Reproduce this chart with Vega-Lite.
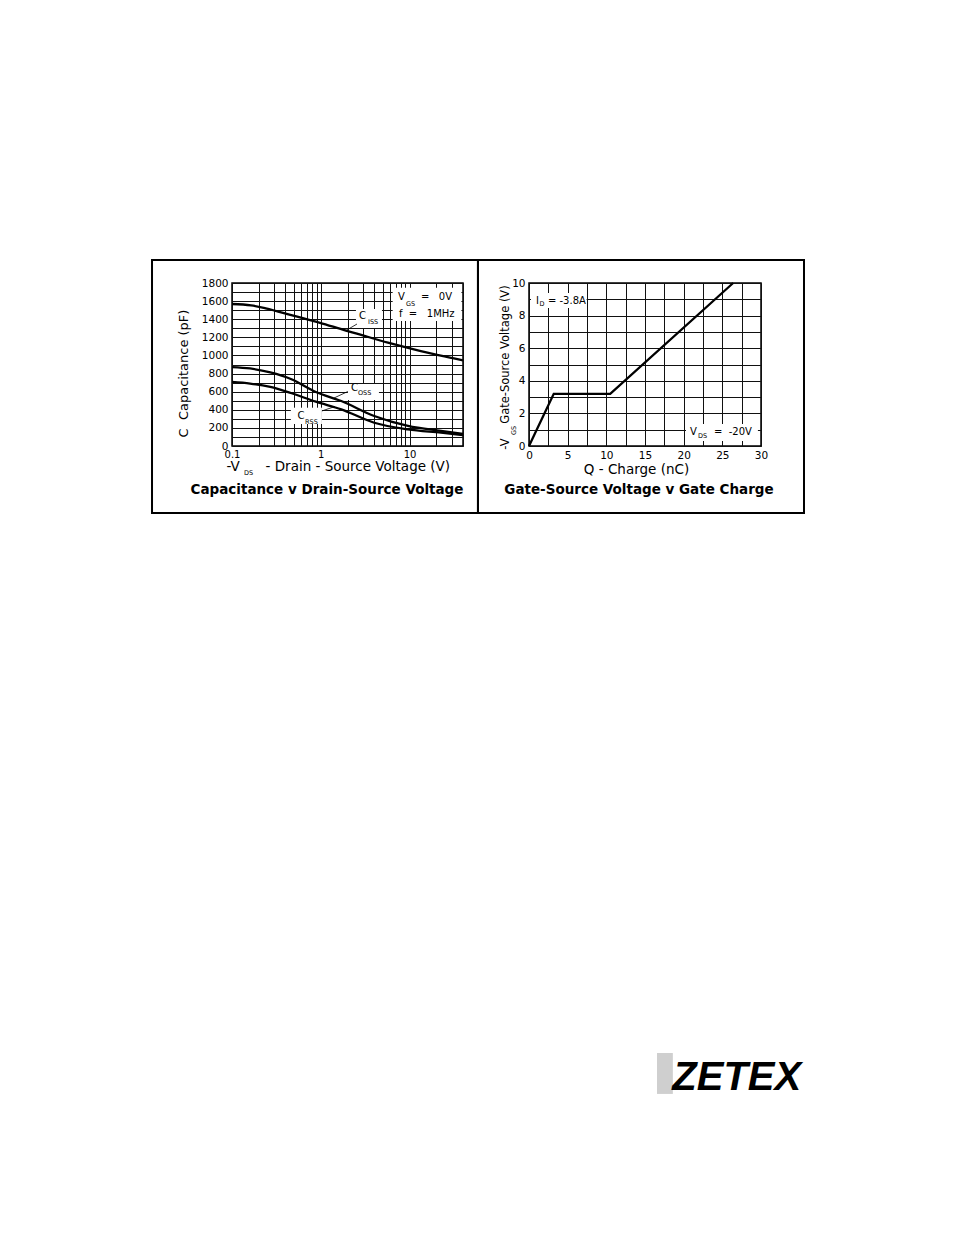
{
  "$schema": "https://vega.github.io/schema/vega-lite/v6.json",
  "background": "white",
  "padding": {"left": 150, "top": 258, "right": 20, "bottom": 20},
  "config": {
    "font": "DejaVu Sans",
    "view": {"stroke": "black", "strokeWidth": 1.5},
    "axis": {
      "grid": true, "gridColor": "#111111", "gridWidth": 1, "gridOpacity": 1,
      "domain": false, "ticks": false,
      "labelColor": "black", "labelFont": "DejaVu Sans", "labelFontSize": 10.5,
      "titleColor": "black", "titleFont": "DejaVu Sans", "titleFontWeight": "normal",
      "labelFlush": false, "labelOverlap": false
    },
    "text": {"font": "DejaVu Sans", "color": "black"}
  },
  "datasets": {
    "capacitance": [
      {"series": "Ciss", "vds": 0.1, "c": 1568}, {"series": "Ciss", "vds": 0.164, "c": 1553}, {"series": "Ciss", "vds": 0.24, "c": 1521},
      {"series": "Ciss", "vds": 0.49, "c": 1439}, {"series": "Ciss", "vds": 0.98, "c": 1360}, {"series": "Ciss", "vds": 1.92, "c": 1275},
      {"series": "Ciss", "vds": 2.37, "c": 1250}, {"series": "Ciss", "vds": 5.71, "c": 1141}, {"series": "Ciss", "vds": 13.4, "c": 1049},
      {"series": "Ciss", "vds": 31.6, "c": 968}, {"series": "Ciss", "vds": 40, "c": 946},
      {"series": "Coss", "vds": 0.1, "c": 872}, {"series": "Coss", "vds": 0.16, "c": 856}, {"series": "Coss", "vds": 0.27, "c": 812},
      {"series": "Coss", "vds": 0.46, "c": 740}, {"series": "Coss", "vds": 0.88, "c": 596}, {"series": "Coss", "vds": 1.7, "c": 497},
      {"series": "Coss", "vds": 4.0, "c": 331}, {"series": "Coss", "vds": 9.6, "c": 221}, {"series": "Coss", "vds": 22.6, "c": 166},
      {"series": "Coss", "vds": 40, "c": 133},
      {"series": "Crss", "vds": 0.1, "c": 707}, {"series": "Crss", "vds": 0.16, "c": 690}, {"series": "Crss", "vds": 0.27, "c": 652},
      {"series": "Crss", "vds": 0.46, "c": 585}, {"series": "Crss", "vds": 0.88, "c": 489}, {"series": "Crss", "vds": 1.7, "c": 405},
      {"series": "Crss", "vds": 4.0, "c": 257}, {"series": "Crss", "vds": 9.6, "c": 184}, {"series": "Crss", "vds": 22.6, "c": 147},
      {"series": "Crss", "vds": 40, "c": 121}
    ],
    "capBoxes": [
      {"x1": 6.45, "x2": 38.4, "y1": 1380, "y2": 1748},
      {"x1": 2.49, "x2": 4.89, "y1": 1303, "y2": 1513},
      {"x1": 2.02, "x2": 4.52, "y1": 508, "y2": 685},
      {"x1": 0.46, "x2": 1.03, "y1": 243, "y2": 423}
    ],
    "capLeaders": [
      {"x1": 1.92, "y1": 1275, "x2": 2.557, "y2": 1347},
      {"x1": 1.39, "y1": 527, "x2": 2.02, "y2": 602},
      {"x1": 1.03, "y1": 387, "x2": 1.445, "y2": 436}
    ],
    "capLabels": [
      {"label": "V", "x": 7.40, "y": 1640},
      {"label": "=\u00a0\u00a0\u00a00V", "x": 13.44, "y": 1640},
      {"label": "f\u00a0\u00a0=\u00a0\u00a0\u00a01MHz", "x": 7.60, "y": 1463},
      {"label": "C", "x": 2.69, "y": 1436},
      {"label": "C", "x": 2.189, "y": 640},
      {"label": "C", "x": 0.5465, "y": 335}
    ],
    "capSubs": [
      {"label": "GS", "x": 9.11, "y": 1568},
      {"label": "ISS", "x": 3.40, "y": 1369},
      {"label": "OSS", "x": 2.62, "y": 585},
      {"label": "RSS", "x": 0.664, "y": 268},
      {"label": "DS", "x": 0.1365, "y": -295}
    ],
    "capCaption": [
      {"label": "Capacitance v Drain-Source Voltage", "x": 1.174, "y": -530}
    ],
    "gateCharge": [
      {"q": 0, "vgs": 0}, {"q": 3.2, "vgs": 3.2}, {"q": 10.5, "vgs": 3.2}, {"q": 26.4, "vgs": 10}
    ],
    "qgBoxes": [
      {"x1": 0.26, "x2": 7.45, "y1": 8.47, "y2": 9.39},
      {"x1": 20.3, "x2": 29.6, "y1": 0.31, "y2": 1.35}
    ],
    "qgLabels": [
      {"label": "I", "x": 0.905, "y": 8.896},
      {"label": "= -3.8A", "x": 2.45, "y": 8.896},
      {"label": "V", "x": 20.82, "y": 0.859},
      {"label": "=\u00a0\u00a0-20V", "x": 23.92, "y": 0.859}
    ],
    "qgSubs": [
      {"label": "D", "x": 1.358, "y": 8.712},
      {"label": "DS", "x": 21.85, "y": 0.644}
    ],
    "qgTitleSub": [
      {"label": "GS", "x": -2.0, "y": 0.951}
    ],
    "qgCaption": [
      {"label": "Gate-Source Voltage v Gate Charge", "x": 14.22, "y": -2.945}
    ],
    "logo": [
      {"label": "ZETEX", "x": 35.2, "y": -39.5}
    ],
    "logoIcon": [
      {"x1": 16.55, "x2": 18.6, "y1": -37.24, "y2": -39.75}
    ]
  },
  "hconcat": [
    {
      "width": 231,
      "height": 163,
      "layer": [
        {
          "data": {"name": "capacitance"},
          "mark": {"type": "line", "color": "black", "strokeWidth": 2.3, "interpolate": "monotone"},
          "encoding": {
            "x": {"field": "vds", "type": "quantitative", "scale": {"type": "log", "domain": [0.1, 40], "nice": false},
              "axis": {"values": [0.1, 0.2, 0.3, 0.4, 0.5, 0.6, 0.7, 0.8, 0.9, 1, 2, 3, 4, 5, 6, 7, 8, 9, 10, 20, 30, 40],
                "tickCount": 100,
                "labelExpr": "datum.value == 0.1 ? '0.1' : (datum.value == 1 ? '1' : (datum.value == 10 ? '10' : ''))",
                "labelPadding": 3, "labelFontSize": 10,
                "title": "-V\u00a0\u00a0\u00a0\u00a0\u00a0\u00a0- Drain - Source Voltage (V)",
                "titleFontSize": 13.5, "titleX": -6, "titleY": 24, "titleAlign": "left", "titleBaseline": "alphabetic"}},
            "y": {"field": "c", "type": "quantitative", "scale": {"domain": [0, 1800], "nice": false, "zero": false},
              "axis": {"values": [0, 100, 200, 300, 400, 500, 600, 700, 800, 900, 1000, 1100, 1200, 1300, 1400, 1500, 1600, 1700, 1800],
                "tickCount": 100,
                "labelExpr": "datum.value % 200 == 0 ? format(datum.value, 'd') : ''",
                "labelPadding": 4,
                "title": "C\u00a0\u00a0Capacitance (pF)",
                "titleFontSize": 13, "titleX": -49, "titleY": 90, "titleAngle": 270, "titleAlign": "center", "titleBaseline": "middle"}},
            "detail": {"field": "series"}
          }
        },
        {
          "data": {"values": [{}]},
          "mark": {"type": "rect", "filled": false, "stroke": "black", "strokeWidth": 2},
          "encoding": {
            "x": {"datum": 0.01256, "type": "quantitative", "scale": {"type": "log", "domain": [0.1, 40], "nice": false}},
            "x2": {"datum": 58.9},
            "y": {"datum": 2054, "type": "quantitative", "scale": {"domain": [0, 1800], "nice": false, "zero": false}},
            "y2": {"datum": -740}
          }
        },
        {
          "data": {"name": "capBoxes"},
          "mark": {"type": "rect", "fill": "white", "strokeWidth": 0},
          "encoding": {
            "x": {"field": "x1", "type": "quantitative", "scale": {"type": "log", "domain": [0.1, 40], "nice": false}},
            "x2": {"field": "x2"},
            "y": {"field": "y1", "type": "quantitative", "scale": {"domain": [0, 1800], "nice": false, "zero": false}},
            "y2": {"field": "y2"}
          }
        },
        {
          "data": {"name": "capLeaders"},
          "mark": {"type": "rule", "color": "black", "strokeWidth": 0.8},
          "encoding": {
            "x": {"field": "x1", "type": "quantitative", "scale": {"type": "log", "domain": [0.1, 40], "nice": false}},
            "x2": {"field": "x2"},
            "y": {"field": "y1", "type": "quantitative", "scale": {"domain": [0, 1800], "nice": false, "zero": false}},
            "y2": {"field": "y2"}
          }
        },
        {
          "data": {"name": "capLabels"},
          "mark": {"type": "text", "fontSize": 10, "align": "left", "baseline": "middle"},
          "encoding": {
            "x": {"field": "x", "type": "quantitative", "scale": {"type": "log", "domain": [0.1, 40], "nice": false}},
            "y": {"field": "y", "type": "quantitative", "scale": {"domain": [0, 1800], "nice": false, "zero": false}},
            "text": {"field": "label"}
          }
        },
        {
          "data": {"name": "capSubs"},
          "mark": {"type": "text", "fontSize": 6.5, "align": "left", "baseline": "middle"},
          "encoding": {
            "x": {"field": "x", "type": "quantitative", "scale": {"type": "log", "domain": [0.1, 40], "nice": false}},
            "y": {"field": "y", "type": "quantitative", "scale": {"domain": [0, 1800], "nice": false, "zero": false}},
            "text": {"field": "label"}
          }
        },
        {
          "data": {"name": "capCaption"},
          "mark": {"type": "text", "fontSize": 13.5, "fontWeight": "bold", "align": "center", "baseline": "alphabetic"},
          "encoding": {
            "x": {"field": "x", "type": "quantitative", "scale": {"type": "log", "domain": [0.1, 40], "nice": false}},
            "y": {"field": "y", "type": "quantitative", "scale": {"domain": [0, 1800], "nice": false, "zero": false}},
            "text": {"field": "label"}
          }
        }
      ]
    },
    {
      "width": 232,
      "height": 163,
      "layer": [
        {
          "data": {"name": "gateCharge"},
          "mark": {"type": "line", "color": "black", "strokeWidth": 2.3},
          "encoding": {
            "x": {"field": "q", "type": "quantitative", "scale": {"domain": [0, 30], "nice": false, "zero": false},
              "axis": {"values": [0, 2.5, 5, 7.5, 10, 12.5, 15, 17.5, 20, 22.5, 25, 27.5, 30],
                "tickCount": 100,
                "labelExpr": "datum.value % 5 == 0 ? format(datum.value, 'd') : ''",
                "labelPadding": 4,
                "title": "Q - Charge (nC)",
                "titleFontSize": 13.5, "titleX": 107, "titleY": 27, "titleAlign": "center", "titleBaseline": "alphabetic"}},
            "y": {"field": "vgs", "type": "quantitative", "scale": {"domain": [0, 10], "nice": false, "zero": false},
              "axis": {"values": [0, 1, 2, 3, 4, 5, 6, 7, 8, 9, 10],
                "tickCount": 100,
                "labelExpr": "datum.value % 2 == 0 ? format(datum.value, 'd') : ''",
                "labelPadding": 4,
                "title": "-V\u00a0\u00a0\u00a0\u00a0Gate-Source Voltage (V)",
                "titleFontSize": 11.5, "titleX": -24, "titleY": 84, "titleAngle": 270, "titleAlign": "center", "titleBaseline": "middle"}}
          }
        },
        {
          "data": {"values": [{}]},
          "mark": {"type": "rect", "filled": false, "stroke": "black", "strokeWidth": 2},
          "encoding": {
            "x": {"datum": -6.595, "type": "quantitative", "scale": {"domain": [0, 30], "nice": false, "zero": false}},
            "x2": {"datum": 35.56},
            "y": {"datum": 11.41, "type": "quantitative", "scale": {"domain": [0, 10], "nice": false, "zero": false}},
            "y2": {"datum": -4.11}
          }
        },
        {
          "data": {"name": "qgBoxes"},
          "mark": {"type": "rect", "fill": "white", "strokeWidth": 0},
          "encoding": {
            "x": {"field": "x1", "type": "quantitative", "scale": {"domain": [0, 30], "nice": false, "zero": false}},
            "x2": {"field": "x2"},
            "y": {"field": "y1", "type": "quantitative", "scale": {"domain": [0, 10], "nice": false, "zero": false}},
            "y2": {"field": "y2"}
          }
        },
        {
          "data": {"name": "qgLabels"},
          "mark": {"type": "text", "fontSize": 10, "align": "left", "baseline": "middle"},
          "encoding": {
            "x": {"field": "x", "type": "quantitative", "scale": {"domain": [0, 30], "nice": false, "zero": false}},
            "y": {"field": "y", "type": "quantitative", "scale": {"domain": [0, 10], "nice": false, "zero": false}},
            "text": {"field": "label"}
          }
        },
        {
          "data": {"name": "qgSubs"},
          "mark": {"type": "text", "fontSize": 6.5, "align": "left", "baseline": "middle"},
          "encoding": {
            "x": {"field": "x", "type": "quantitative", "scale": {"domain": [0, 30], "nice": false, "zero": false}},
            "y": {"field": "y", "type": "quantitative", "scale": {"domain": [0, 10], "nice": false, "zero": false}},
            "text": {"field": "label"}
          }
        },
        {
          "data": {"name": "qgTitleSub"},
          "mark": {"type": "text", "fontSize": 6.5, "align": "center", "baseline": "middle", "angle": 270},
          "encoding": {
            "x": {"field": "x", "type": "quantitative", "scale": {"domain": [0, 30], "nice": false, "zero": false}},
            "y": {"field": "y", "type": "quantitative", "scale": {"domain": [0, 10], "nice": false, "zero": false}},
            "text": {"field": "label"}
          }
        },
        {
          "data": {"name": "qgCaption"},
          "mark": {"type": "text", "fontSize": 13.5, "fontWeight": "bold", "align": "center", "baseline": "alphabetic"},
          "encoding": {
            "x": {"field": "x", "type": "quantitative", "scale": {"domain": [0, 30], "nice": false, "zero": false}},
            "y": {"field": "y", "type": "quantitative", "scale": {"domain": [0, 10], "nice": false, "zero": false}},
            "text": {"field": "label"}
          }
        },
        {
          "data": {"name": "logoIcon"},
          "mark": {"type": "rect", "fill": "#cfcfcf", "strokeWidth": 0},
          "encoding": {
            "x": {"field": "x1", "type": "quantitative", "scale": {"domain": [0, 30], "nice": false, "zero": false}},
            "x2": {"field": "x2"},
            "y": {"field": "y1", "type": "quantitative", "scale": {"domain": [0, 10], "nice": false, "zero": false}},
            "y2": {"field": "y2"}
          }
        },
        {
          "data": {"name": "logo"},
          "mark": {"type": "text", "font": "Liberation Sans", "fontSize": 40, "fontWeight": "bold", "fontStyle": "italic", "align": "right", "baseline": "alphabetic", "color": "black"},
          "encoding": {
            "x": {"field": "x", "type": "quantitative", "scale": {"domain": [0, 30], "nice": false, "zero": false}},
            "y": {"field": "y", "type": "quantitative", "scale": {"domain": [0, 10], "nice": false, "zero": false}},
            "text": {"field": "label"}
          }
        }
      ]
    }
  ],
  "spacing": 66,
  "bounds": "flush"
}
